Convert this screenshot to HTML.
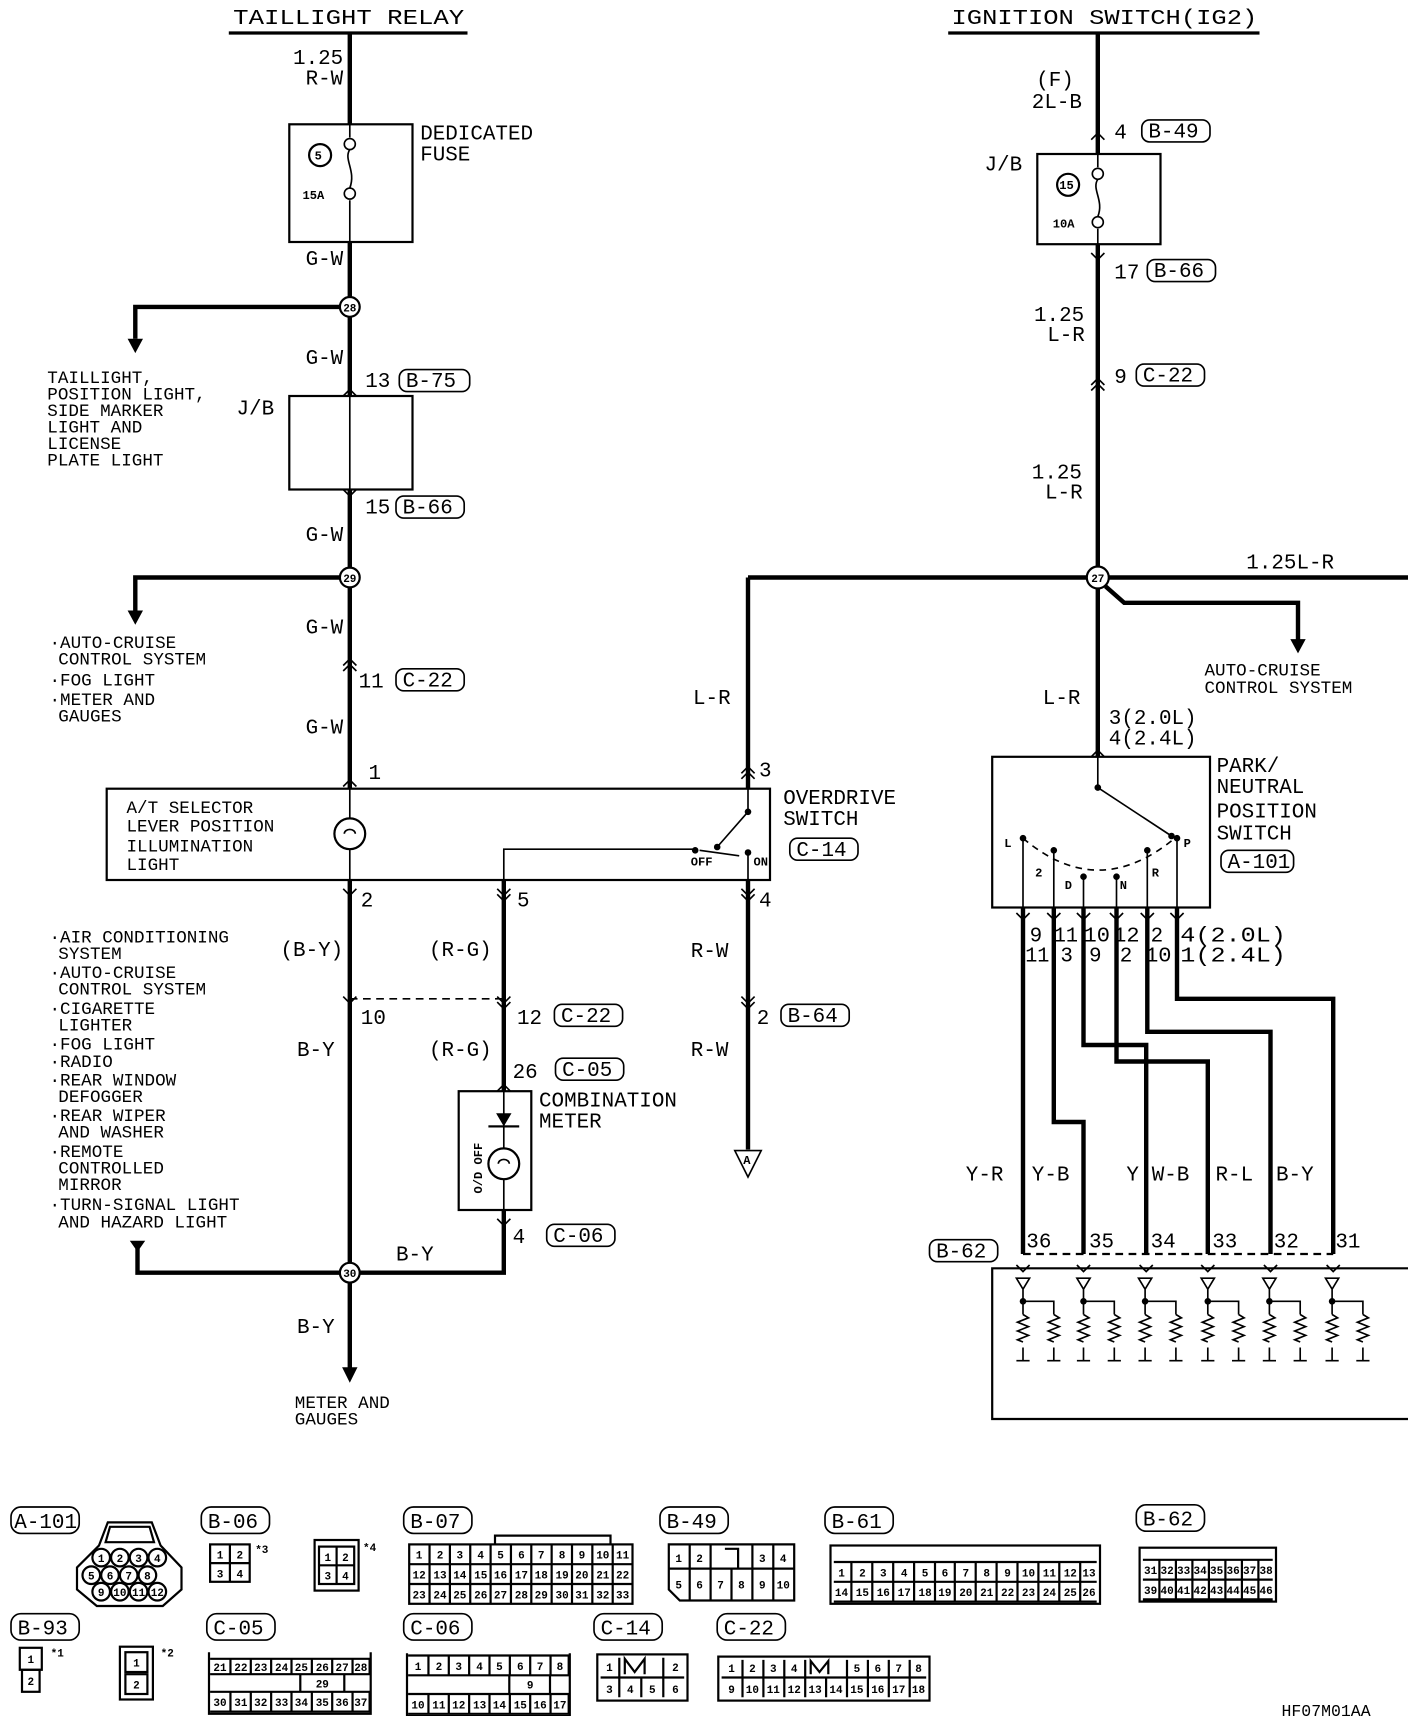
<!DOCTYPE html>
<html><head><meta charset="utf-8"><style>
html,body{margin:0;padding:0;background:#fff}
svg{display:block}
text{font-family:"Liberation Mono",monospace;fill:#000}
.t{font-size:19px}
.s{font-size:16px}
.x{font-size:11px;font-weight:bold}
.n{font-size:10px;font-weight:bold}
</style></head><body>
<svg width="1408" height="1716" viewBox="0 0 1280 1560" xmlns="http://www.w3.org/2000/svg">
<g fill="none" stroke="#000">
<line x1="208" y1="30" x2="425" y2="30" stroke-width="3"/>
<line x1="862" y1="30" x2="1145" y2="30" stroke-width="3"/>
<path d="M318 30V113M318 220V360M318 445V717M318 800V1245" stroke-width="4"/>
<path d="M318 113V125M318 182V220M318 360V445M318 717V800" stroke-width="1.5"/>
<rect x="263" y="113" width="112" height="107" stroke-width="2"/>
<circle cx="291" cy="141" r="10" stroke-width="2"/>
<circle cx="318" cy="131" r="5" stroke-width="1.5"/>
<circle cx="318" cy="176" r="5" stroke-width="1.5"/>
<path d="M318 136C312 145 324 155 318 171" stroke-width="1.5"/>
<rect x="263" y="360" width="112" height="85" stroke-width="2"/>
<path d="M318 279H123V308M318 525H123V560" stroke-width="4"/>
<circle cx="318" cy="279" r="9" fill="#fff" stroke-width="2"/>
<circle cx="318" cy="525" r="9" fill="#fff" stroke-width="2"/>
<rect x="97" y="717" width="603" height="83" stroke-width="2"/>
<circle cx="318" cy="758" r="14" fill="#fff" stroke-width="2"/>
<path d="M313 758a5 4 0 0 1 10 0" stroke-width="1.5"/>
<line x1="318" y1="908" x2="458" y2="908" stroke-dasharray="7 5" stroke-width="1.5"/>
<path d="M318 1157H125V1135M318 1157H458V1100" stroke-width="4"/>
<circle cx="318" cy="1157" r="9" fill="#fff" stroke-width="2"/>
<path d="M458 800V992" stroke-width="4"/>
<path d="M458 800V772H632" stroke-width="1.5"/>
<rect x="417" y="992" width="66" height="108" stroke-width="2"/>
<path d="M458 992V1100" stroke-width="1.5"/>
<circle cx="458" cy="1058" r="14" fill="#fff" stroke-width="2"/>
<path d="M453 1058a5 4 0 0 1 10 0" stroke-width="1.5"/>
<path d="M680 525V717M680 800V1045" stroke-width="4"/>
<path d="M680 717V738L652 770M680 775V800M636 773L672 778" stroke-width="1.5"/>
<path d="M668 1046H692L680 1070Z" stroke-width="1.5"/>
<path d="M998 30V140M998 222V688M680 525H1280M1005 533L1022 548H1180V583" stroke-width="4"/>
<path d="M998 140V152M998 208V222M998 688V716L1065 760" stroke-width="1.5"/>
<rect x="943" y="140" width="112" height="82" stroke-width="2"/>
<circle cx="971" cy="168" r="10" stroke-width="2"/>
<circle cx="998" cy="158" r="5" stroke-width="1.5"/>
<circle cx="998" cy="202" r="5" stroke-width="1.5"/>
<path d="M998 163C992 172 1004 182 998 197" stroke-width="1.5"/>
<circle cx="998" cy="525" r="10" fill="#fff" stroke-width="2"/>
<rect x="902" y="688" width="198" height="137" stroke-width="2"/>
<path d="M930 762Q998 820 1068 762" stroke-dasharray="6 5" stroke-width="1.5"/>
<path d="M930 762V825M958 773V825M985 797V825M1015 797V825M1043 773V825M1070 762V825" stroke-width="1.5"/>
<path d="M930 825V1140M958 825V1020H985V1140M985 825V950H1042V1140M1015 825V965H1098V1140M1043 825V938H1155V1140M1070 825V908H1212V1140" stroke-width="4"/>
<line x1="930" y1="1140" x2="1212" y2="1140" stroke-dasharray="7 5" stroke-width="2"/>
<path d="M1280 1153H902V1290H1280" stroke-width="2"/>
<g stroke-width="1.5">
<path d="M924 1162h12l-6 10zM930 1183H958V1195M930 1172V1195M924 1237h12M952 1237h12M930 1225v12M958 1225v12M930 1195l5 3-10 4 10 4-10 4 10 4-10 4 5 2M958 1195l5 3-10 4 10 4-10 4 10 4-10 4 5 2"/>
<path transform="translate(55 0)" d="M924 1162h12l-6 10zM930 1183H958V1195M930 1172V1195M924 1237h12M952 1237h12M930 1225v12M958 1225v12M930 1195l5 3-10 4 10 4-10 4 10 4-10 4 5 2M958 1195l5 3-10 4 10 4-10 4 10 4-10 4 5 2"/>
<path transform="translate(111 0)" d="M924 1162h12l-6 10zM930 1183H958V1195M930 1172V1195M924 1237h12M952 1237h12M930 1225v12M958 1225v12M930 1195l5 3-10 4 10 4-10 4 10 4-10 4 5 2M958 1195l5 3-10 4 10 4-10 4 10 4-10 4 5 2"/>
<path transform="translate(168 0)" d="M924 1162h12l-6 10zM930 1183H958V1195M930 1172V1195M924 1237h12M952 1237h12M930 1225v12M958 1225v12M930 1195l5 3-10 4 10 4-10 4 10 4-10 4 5 2M958 1195l5 3-10 4 10 4-10 4 10 4-10 4 5 2"/>
<path transform="translate(224 0)" d="M924 1162h12l-6 10zM930 1183H958V1195M930 1172V1195M924 1237h12M952 1237h12M930 1225v12M958 1225v12M930 1195l5 3-10 4 10 4-10 4 10 4-10 4 5 2M958 1195l5 3-10 4 10 4-10 4 10 4-10 4 5 2"/>
<path transform="translate(281 0)" d="M924 1162h12l-6 10zM930 1183H958V1195M930 1172V1195M924 1237h12M952 1237h12M930 1225v12M958 1225v12M930 1195l5 3-10 4 10 4-10 4 10 4-10 4 5 2M958 1195l5 3-10 4 10 4-10 4 10 4-10 4 5 2"/>
</g>
<g stroke-width="1.5">
<path d="M312 360l6-6 6 6M312 445l6 6 6-6M312 715l6-6 6 6M312 808l6 6 6-6M312 605l6-6 6 6M312 610l6-6 6 6M312 906l6 6 6-6M452 808l6 6 6-6M452 813l6 6 6-6M452 906l6 6 6-6M452 911l6 6 6-6M452 992l6-6 6 6M452 1108l6 6 6-6M674 703l6-6 6 6M674 708l6-6 6 6M674 808l6 6 6-6M674 813l6 6 6-6M674 906l6 6 6-6M674 911l6 6 6-6M992 127l6-6 6 6M992 230l6 6 6-6M992 350l6-6 6 6M992 355l6-6 6 6M992 688l6-6 6 6M924 830l6 6 6-6M952 830l6 6 6-6M979 830l6 6 6-6M1009 830l6 6 6-6M1037 830l6 6 6-6M1064 830l6 6 6-6M924 1150l6 6 6-6M979 1150l6 6 6-6M1036 1150l6 6 6-6M1092 1150l6 6 6-6M1149 1150l6 6 6-6M1206 1150l6 6 6-6"/>
</g>
<g stroke-width="1.5">
<rect x="363" y="336" width="64" height="20" rx="7"/>
<rect x="360" y="451" width="62" height="20" rx="7"/>
<rect x="360" y="608" width="62" height="20" rx="7"/>
<rect x="504" y="913" width="62" height="20" rx="7"/>
<rect x="505" y="962" width="62" height="20" rx="7"/>
<rect x="497" y="1113" width="62" height="20" rx="7"/>
<rect x="718" y="762" width="62" height="20" rx="7"/>
<rect x="710" y="913" width="62" height="20" rx="7"/>
<rect x="1038" y="109" width="62" height="20" rx="7"/>
<rect x="1043" y="236" width="62" height="20" rx="7"/>
<rect x="1033" y="331" width="62" height="20" rx="7"/>
<rect x="1110" y="773" width="66" height="20" rx="7"/>
<rect x="845" y="1127" width="62" height="20" rx="7"/>
</g>
</g>
<g fill="#000">
<path d="M116 308h14l-7 13zM116 555h14l-7 13zM118 1128h14l-7 10zM311 1243h14l-7 14zM1173 581h14l-7 13zM451 1012h14l-7 12z"/>
<rect x="444" y="1023" width="28" height="2"/>
<circle cx="680" cy="738" r="3"/><circle cx="652" cy="770" r="3"/><circle cx="632" cy="773" r="3"/><circle cx="680" cy="775" r="3"/>
<circle cx="998" cy="716" r="3"/><circle cx="1065" cy="760" r="3"/>
<circle cx="930" cy="762" r="3"/><circle cx="958" cy="773" r="3"/><circle cx="985" cy="797" r="3"/><circle cx="1015" cy="797" r="3"/><circle cx="1043" cy="773" r="3"/><circle cx="1070" cy="762" r="3"/>
<circle cx="930" cy="1183" r="3"/><circle cx="985" cy="1183" r="3"/><circle cx="1041" cy="1183" r="3"/><circle cx="1098" cy="1183" r="3"/><circle cx="1154" cy="1183" r="3"/><circle cx="1211" cy="1183" r="3"/>
</g>
<g class="t">
<text x="212" y="22" textLength="210" lengthAdjust="spacingAndGlyphs">TAILLIGHT RELAY</text>
<text x="865" y="22" textLength="278" lengthAdjust="spacingAndGlyphs">IGNITION SWITCH(IG2)</text>
<text x="312" y="58" text-anchor="end">1.25</text>
<text x="312" y="77" text-anchor="end">R-W</text>
<text x="382" y="127">DEDICATED</text>
<text x="382" y="146">FUSE</text>
<text x="312" y="241" text-anchor="end">G-W</text>
<text x="312" y="331" text-anchor="end">G-W</text>
<text x="332" y="352">13</text><text x="369" y="352">B-75</text>
<text x="215" y="377">J/B</text>
<text x="332" y="467">15</text><text x="366" y="467">B-66</text>
<text x="312" y="492" text-anchor="end">G-W</text>
<text x="312" y="576" text-anchor="end">G-W</text>
<text x="326" y="625">11</text><text x="366" y="624">C-22</text>
<text x="312" y="667" text-anchor="end">G-W</text>
<text x="335" y="708">1</text>
<text x="328" y="824">2</text>
<text x="255" y="869">(B-Y)</text>
<text x="328" y="931">10</text>
<text x="270" y="960">B-Y</text>
<text x="360" y="1146">B-Y</text>
<text x="270" y="1212">B-Y</text>
<text x="470" y="824">5</text>
<text x="390" y="869">(R-G)</text>
<text x="470" y="931">12</text><text x="510" y="929">C-22</text>
<text x="390" y="960">(R-G)</text>
<text x="466" y="980">26</text><text x="511" y="978">C-05</text>
<text x="490" y="1006">COMBINATION</text>
<text x="490" y="1025">METER</text>
<text x="466" y="1130">4</text><text x="503" y="1129">C-06</text>
<text x="630" y="640">L-R</text>
<text x="690" y="706">3</text>
<text x="712" y="731">OVERDRIVE</text>
<text x="712" y="750">SWITCH</text>
<text x="724" y="778">C-14</text>
<text x="690" y="824">4</text>
<text x="628" y="870">R-W</text>
<text x="688" y="931">2</text><text x="716" y="929">B-64</text>
<text x="628" y="960">R-W</text>
<text x="942" y="78">(F)</text>
<text x="938" y="98">2L-B</text>
<text x="1013" y="126">4</text><text x="1044" y="125">B-49</text>
<text x="895" y="155">J/B</text>
<text x="1013" y="253">17</text><text x="1049" y="252">B-66</text>
<text x="940" y="292">1.25</text>
<text x="952" y="310">L-R</text>
<text x="1013" y="348">9</text><text x="1039" y="347">C-22</text>
<text x="938" y="435">1.25</text>
<text x="950" y="453">L-R</text>
<text x="1133" y="517">1.25L-R</text>
<text x="948" y="640">L-R</text>
<text x="1008" y="658">3(2.0L)</text>
<text x="1008" y="677">4(2.4L)</text>
<text x="1106" y="702">PARK/</text>
<text x="1106" y="721">NEUTRAL</text>
<text x="1106" y="743">POSITION</text>
<text x="1106" y="763">SWITCH</text>
<text x="1116" y="789">A-101</text>
<text x="936" y="856">9</text><text x="958" y="856" textLength="22" lengthAdjust="spacingAndGlyphs">11</text><text x="985" y="856" textLength="24" lengthAdjust="spacingAndGlyphs">10</text><text x="1012" y="856" textLength="24" lengthAdjust="spacingAndGlyphs">12</text><text x="1046" y="856">2</text><text x="1073" y="856" textLength="96" lengthAdjust="spacingAndGlyphs">4(2.0L)</text>
<text x="932" y="874" textLength="22" lengthAdjust="spacingAndGlyphs">11</text><text x="964" y="874">3</text><text x="990" y="874">9</text><text x="1018" y="874">2</text><text x="1041" y="874" textLength="24" lengthAdjust="spacingAndGlyphs">10</text><text x="1073" y="874" textLength="96" lengthAdjust="spacingAndGlyphs">1(2.4L)</text>
<text x="878" y="1073">Y-R</text><text x="938" y="1073">Y-B</text><text x="1024" y="1073">Y</text><text x="1047" y="1073">W-B</text><text x="1105" y="1073">R-L</text><text x="1160" y="1073">B-Y</text>
<text x="933" y="1134">36</text><text x="990" y="1134">35</text><text x="1046" y="1134">34</text><text x="1102" y="1134">33</text><text x="1158" y="1134">32</text><text x="1214" y="1134">31</text>
<text x="851" y="1143">B-62</text>
<text x="1165" y="1560" font-size="15">HF07M01AA</text>
</g>
<g class="s">
<text x="43" y="348">TAILLIGHT,</text><text x="43" y="363">POSITION LIGHT,</text><text x="43" y="378">SIDE MARKER</text><text x="43" y="393">LIGHT AND</text><text x="43" y="408">LICENSE</text><text x="43" y="423">PLATE LIGHT</text>
<text x="45" y="589">·AUTO-CRUISE</text><text x="53" y="604">CONTROL SYSTEM</text><text x="45" y="623">·FOG LIGHT</text><text x="45" y="641">·METER AND</text><text x="53" y="656">GAUGES</text>
<text x="115" y="739">A/T SELECTOR</text><text x="115" y="756">LEVER POSITION</text><text x="115" y="774">ILLUMINATION</text><text x="115" y="791">LIGHT</text>
<text x="45" y="857">·AIR CONDITIONING</text><text x="53" y="872">SYSTEM</text><text x="45" y="889">·AUTO-CRUISE</text><text x="53" y="904">CONTROL SYSTEM</text><text x="45" y="922">·CIGARETTE</text><text x="53" y="937">LIGHTER</text><text x="45" y="954">·FOG LIGHT</text><text x="45" y="970">·RADIO</text><text x="45" y="987">·REAR WINDOW</text><text x="53" y="1002">DEFOGGER</text><text x="45" y="1019">·REAR WIPER</text><text x="53" y="1034">AND WASHER</text><text x="45" y="1052">·REMOTE</text><text x="53" y="1067">CONTROLLED</text><text x="53" y="1082">MIRROR</text><text x="45" y="1100">·TURN-SIGNAL LIGHT</text><text x="53" y="1116">AND HAZARD LIGHT</text>
<text x="268" y="1280">METER AND</text><text x="268" y="1295">GAUGES</text>
<text x="1095" y="614">AUTO-CRUISE</text><text x="1095" y="630">CONTROL SYSTEM</text>
</g>
<g class="x">
<text x="286" y="145">5</text><text x="275" y="181">15A</text>
<text x="963" y="172">15</text><text x="957" y="207">10A</text>
<text x="628" y="787">OFF</text><text x="685" y="787">ON</text>
<text x="913" y="770">L</text><text x="941" y="797">2</text><text x="968" y="808">D</text><text x="1018" y="808">N</text><text x="1047" y="797">R</text><text x="1076" y="770">P</text>
<text x="679" y="1058" text-anchor="middle">A</text>
<text transform="translate(438 1085) rotate(-90)">O/D OFF</text>
</g>
<text x="318" y="283" class="n" text-anchor="middle">28</text>
<text x="318" y="529" class="n" text-anchor="middle">29</text>
<text x="318" y="1161" class="n" text-anchor="middle">30</text>
<text x="998" y="529" class="n" text-anchor="middle">27</text>

<g fill="none" stroke="#000" stroke-width="1.5">
<rect x="10" y="1370" width="62" height="24" rx="9"/><rect x="183" y="1370" width="62" height="24" rx="9"/><rect x="367" y="1370" width="62" height="24" rx="9"/><rect x="600" y="1370" width="62" height="24" rx="9"/><rect x="750" y="1370" width="62" height="24" rx="9"/><rect x="1033" y="1368" width="62" height="24" rx="9"/>
<rect x="10" y="1467" width="62" height="24" rx="9"/><rect x="188" y="1467" width="62" height="24" rx="9"/><rect x="367" y="1467" width="62" height="24" rx="9"/><rect x="540" y="1467" width="62" height="24" rx="9"/><rect x="652" y="1467" width="62" height="24" rx="9"/>
</g>
<g class="t">
<text x="13" y="1389">A-101</text><text x="189" y="1389">B-06</text><text x="373" y="1389">B-07</text><text x="606" y="1389">B-49</text><text x="756" y="1389">B-61</text><text x="1039" y="1387">B-62</text>
<text x="16" y="1486">B-93</text><text x="194" y="1486">C-05</text><text x="373" y="1486">C-06</text><text x="546" y="1486">C-14</text><text x="658" y="1486">C-22</text>
</g>
<g fill="none" stroke="#000" stroke-width="2">
<path d="M98 1384H138L146 1405L165 1425V1445L148 1460H88L70 1445V1425L90 1405Z"/>
<path d="M100 1388H136L140 1402H96Z"/>
<circle cx="92" cy="1416" r="8"/><circle cx="109" cy="1416" r="8"/><circle cx="126" cy="1416" r="8"/><circle cx="143" cy="1416" r="8"/>
<circle cx="83" cy="1432" r="8"/><circle cx="100" cy="1432" r="8"/><circle cx="117" cy="1432" r="8"/><circle cx="134" cy="1432" r="8"/>
<circle cx="92" cy="1447" r="8"/><circle cx="109" cy="1447" r="8"/><circle cx="126" cy="1447" r="8"/><circle cx="143" cy="1447" r="8"/>
<rect x="191" y="1404" width="36" height="34"/><path d="M209 1404V1438M191 1421H227"/>
<rect x="286" y="1400" width="40" height="46"/><rect x="290" y="1406" width="32" height="34"/><path d="M306 1406V1440M290 1423H322"/>
<rect x="372" y="1404" width="203" height="54"/><path d="M372 1422H575M372 1440H575"/>
<path d="M390.5 1404V1458M409 1404V1458M427.5 1404V1458M446 1404V1458M464.5 1404V1458M483 1404V1458M501.5 1404V1458M520 1404V1458M538.5 1404V1458M557 1404V1458"/>
<path d="M450 1404V1396H555V1404"/>
<path d="M608 1404H722V1455H618L608 1445Z"/><path d="M608 1426H722M627 1404V1455M646 1404V1455M665 1426V1455M684 1404V1455M703 1404V1455M659 1408H671V1426"/>
<rect x="755" y="1405" width="245" height="53"/><path d="M758 1420H997M758 1438H997M758 1456H997"/>
<path d="M774 1420V1456M793 1420V1456M812 1420V1456M831 1420V1456M850 1420V1456M868 1420V1456M887 1420V1456M906 1420V1456M925 1420V1456M944 1420V1456M963 1420V1456M982 1420V1456"/>
<rect x="1036" y="1407" width="124" height="49"/><path d="M1039 1418H1157M1039 1436H1157M1039 1454H1157"/>
<path d="M1054 1418V1454M1069 1418V1454M1084 1418V1454M1099 1418V1454M1114 1418V1454M1129 1418V1454M1144 1418V1454"/>
<rect x="18" y="1498" width="20" height="20"/><rect x="20" y="1518" width="16" height="20"/>
<rect x="109" y="1497" width="30" height="48"/><rect x="114" y="1502" width="20" height="18"/><rect x="114" y="1522" width="20" height="18"/>
<path d="M190 1502V1558H337V1502"/><path d="M191 1508H336V1522H191M191 1538H336V1556H191M273 1522V1538M313 1522V1538"/>
<path d="M209.5 1508V1522M228 1508V1522M246.5 1508V1522M265 1508V1522M283.5 1508V1522M302 1508V1522M320.5 1508V1522M209.5 1538V1556M228 1538V1556M246.5 1538V1556M265 1538V1556M283.5 1538V1556M302 1538V1556M320.5 1538V1556"/>
<path d="M370 1503V1560H518V1503"/><path d="M371 1505H517V1523H371M371 1540H517V1558H371M463 1523V1540M500 1523V1540"/>
<path d="M389.5 1505V1523M408 1505V1523M426.5 1505V1523M445 1505V1523M463.5 1505V1523M482 1505V1523M500.5 1505V1523M389.5 1540V1558M408 1540V1558M426.5 1540V1558M445 1540V1558M463.5 1540V1558M482 1540V1558M500.5 1540V1558"/>
<rect x="543" y="1504" width="82" height="42"/><path d="M546 1525H622M563 1507V1543M583 1525V1543M603 1507V1543M568 1522V1508L577 1520L586 1508V1522"/>
<rect x="653" y="1506" width="192" height="40"/><path d="M656 1525H842M675 1509V1543M694 1509V1543M713 1509V1543M732 1509V1543M751 1525V1543M770 1509V1543M789 1509V1543M808 1509V1543M827 1509V1543M737 1522V1510L745 1520L753 1510V1522"/>
</g>
<g class="n" text-anchor="middle">
<text x="92" y="1420">1</text><text x="109" y="1420">2</text><text x="126" y="1420">3</text><text x="143" y="1420">4</text><text x="83" y="1436">5</text><text x="100" y="1436">6</text><text x="117" y="1436">7</text><text x="134" y="1436">8</text><text x="92" y="1451">9</text><text x="109" y="1451">10</text><text x="126" y="1451">11</text><text x="143" y="1451">12</text>
<text x="200" y="1417">1</text><text x="218" y="1417">2</text><text x="200" y="1434">3</text><text x="218" y="1434">4</text><text x="238" y="1412">*3</text>
<text x="298" y="1419">1</text><text x="314" y="1419">2</text><text x="298" y="1436">3</text><text x="314" y="1436">4</text><text x="336" y="1410">*4</text>
<text x="381" y="1417">1</text><text x="400" y="1417">2</text><text x="418" y="1417">3</text><text x="437" y="1417">4</text><text x="455" y="1417">5</text><text x="474" y="1417">6</text><text x="492" y="1417">7</text><text x="511" y="1417">8</text><text x="529" y="1417">9</text><text x="548" y="1417">10</text><text x="566" y="1417">11</text>
<text x="381" y="1435">12</text><text x="400" y="1435">13</text><text x="418" y="1435">14</text><text x="437" y="1435">15</text><text x="455" y="1435">16</text><text x="474" y="1435">17</text><text x="492" y="1435">18</text><text x="511" y="1435">19</text><text x="529" y="1435">20</text><text x="548" y="1435">21</text><text x="566" y="1435">22</text>
<text x="381" y="1453">23</text><text x="400" y="1453">24</text><text x="418" y="1453">25</text><text x="437" y="1453">26</text><text x="455" y="1453">27</text><text x="474" y="1453">28</text><text x="492" y="1453">29</text><text x="511" y="1453">30</text><text x="529" y="1453">31</text><text x="548" y="1453">32</text><text x="566" y="1453">33</text>
<text x="617" y="1420">1</text><text x="636" y="1420">2</text><text x="693" y="1420">3</text><text x="712" y="1420">4</text><text x="617" y="1444">5</text><text x="636" y="1444">6</text><text x="655" y="1444">7</text><text x="674" y="1444">8</text><text x="693" y="1444">9</text><text x="712" y="1444">10</text>
<text x="765" y="1433">1</text><text x="784" y="1433">2</text><text x="803" y="1433">3</text><text x="822" y="1433">4</text><text x="841" y="1433">5</text><text x="859" y="1433">6</text><text x="878" y="1433">7</text><text x="897" y="1433">8</text><text x="916" y="1433">9</text><text x="935" y="1433">10</text><text x="954" y="1433">11</text><text x="973" y="1433">12</text><text x="990" y="1433">13</text>
<text x="765" y="1451">14</text><text x="784" y="1451">15</text><text x="803" y="1451">16</text><text x="822" y="1451">17</text><text x="841" y="1451">18</text><text x="859" y="1451">19</text><text x="878" y="1451">20</text><text x="897" y="1451">21</text><text x="916" y="1451">22</text><text x="935" y="1451">23</text><text x="954" y="1451">24</text><text x="973" y="1451">25</text><text x="990" y="1451">26</text>
<text x="1046" y="1431">31</text><text x="1061" y="1431">32</text><text x="1076" y="1431">33</text><text x="1091" y="1431">34</text><text x="1106" y="1431">35</text><text x="1121" y="1431">36</text><text x="1136" y="1431">37</text><text x="1151" y="1431">38</text>
<text x="1046" y="1449">39</text><text x="1061" y="1449">40</text><text x="1076" y="1449">41</text><text x="1091" y="1449">42</text><text x="1106" y="1449">43</text><text x="1121" y="1449">44</text><text x="1136" y="1449">45</text><text x="1151" y="1449">46</text>
<text x="28" y="1512">1</text><text x="28" y="1532">2</text><text x="52" y="1506">*1</text>
<text x="124" y="1515">1</text><text x="124" y="1535">2</text><text x="152" y="1506">*2</text>
<text x="200" y="1519">21</text><text x="219" y="1519">22</text><text x="237" y="1519">23</text><text x="256" y="1519">24</text><text x="274" y="1519">25</text><text x="293" y="1519">26</text><text x="311" y="1519">27</text><text x="328" y="1519">28</text><text x="293" y="1534">29</text>
<text x="200" y="1551">30</text><text x="219" y="1551">31</text><text x="237" y="1551">32</text><text x="256" y="1551">33</text><text x="274" y="1551">34</text><text x="293" y="1551">35</text><text x="311" y="1551">36</text><text x="328" y="1551">37</text>
<text x="380" y="1518">1</text><text x="399" y="1518">2</text><text x="417" y="1518">3</text><text x="436" y="1518">4</text><text x="454" y="1518">5</text><text x="473" y="1518">6</text><text x="491" y="1518">7</text><text x="509" y="1518">8</text><text x="482" y="1535">9</text>
<text x="380" y="1553">10</text><text x="399" y="1553">11</text><text x="417" y="1553">12</text><text x="436" y="1553">13</text><text x="454" y="1553">14</text><text x="473" y="1553">15</text><text x="491" y="1553">16</text><text x="509" y="1553">17</text>
<text x="554" y="1519">1</text><text x="614" y="1519">2</text><text x="554" y="1539">3</text><text x="573" y="1539">4</text><text x="593" y="1539">5</text><text x="614" y="1539">6</text>
<text x="665" y="1520">1</text><text x="684" y="1520">2</text><text x="703" y="1520">3</text><text x="722" y="1520">4</text><text x="779" y="1520">5</text><text x="798" y="1520">6</text><text x="817" y="1520">7</text><text x="835" y="1520">8</text>
<text x="665" y="1539">9</text><text x="684" y="1539">10</text><text x="703" y="1539">11</text><text x="722" y="1539">12</text><text x="741" y="1539">13</text><text x="760" y="1539">14</text><text x="779" y="1539">15</text><text x="798" y="1539">16</text><text x="817" y="1539">17</text><text x="835" y="1539">18</text>
</g>
</svg>
</body></html>
